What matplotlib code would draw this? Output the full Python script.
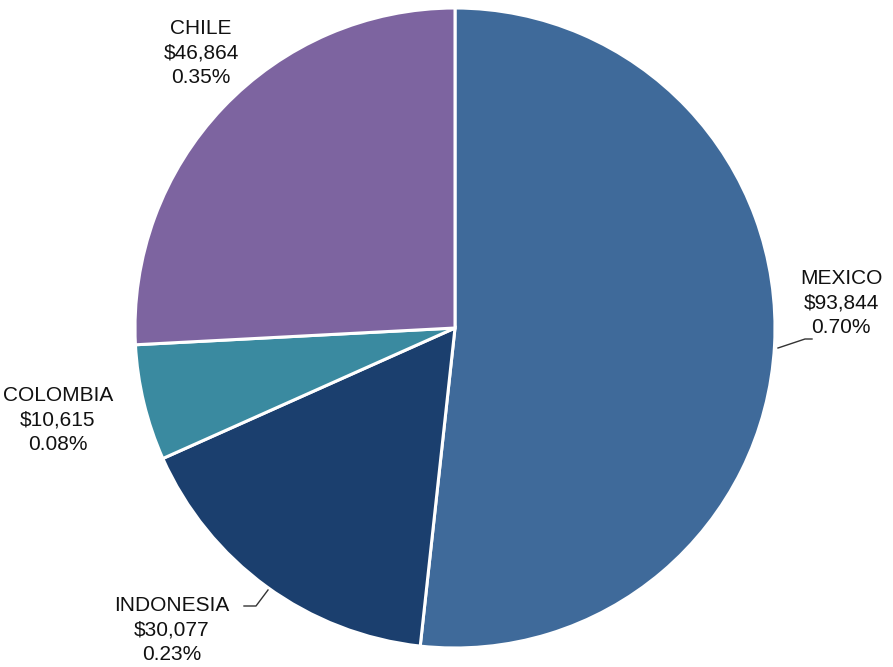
import matplotlib.pyplot as plt

plt.rcParams["font.family"] = ["Liberation Sans", "DejaVu Sans"]

countries = ["MEXICO", "INDONESIA", "COLOMBIA", "CHILE"]
amounts = [93844, 30077, 10615, 46864]
shares = [0.70, 0.23, 0.08, 0.35]
colors = ["#3f6a9a", "#1b3f6e", "#3a8aa0", "#7d64a0"]

W, H = 893, 667
fig = plt.figure(figsize=(W / 100, H / 100), dpi=100)

# pie box in pixels: left 135, top 8, size 640
ax = fig.add_axes([135 / W, (H - 648) / H, 640 / W, 640 / H])
ax.pie(amounts, colors=colors, startangle=90, counterclock=False,
       wedgeprops=dict(edgecolor="white", linewidth=2.2))
ax.set_xlim(-1, 1)
ax.set_ylim(-1, 1)
ax.set_aspect("equal")

# label anchor (text centre) in pixels
label_pos = {
    "MEXICO": (841, 303),
    "INDONESIA": (172, 630),
    "COLOMBIA": (58, 420),
    "CHILE": (201, 53),
}

for name, amt, pct in zip(countries, amounts, shares):
    px, py = label_pos[name]
    fig.text(px / W, 1 - py / H, f"{name}\n${amt:,}\n{pct:.2f}%",
             ha="center", va="center", fontsize=15, color="#111111",
             linespacing=1.35)

# leader lines
def leader(pts):
    xs = [p[0] / W for p in pts]
    ys = [1 - p[1] / H for p in pts]
    fig.add_artist(plt.Line2D(xs, ys, color="#333333", linewidth=1.0))

leader([(778, 348), (805, 339), (812, 339)])
leader([(244, 606), (256, 606), (268, 590)])

fig.savefig("out.png", dpi=100, facecolor="white")
